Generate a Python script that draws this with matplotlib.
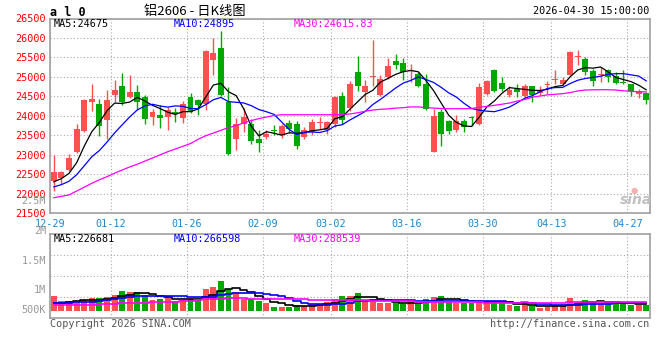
import matplotlib
matplotlib.use("Agg")
import matplotlib.pyplot as plt
import numpy as np

# ---- data (al0 daily, 12-29 .. 04-29) ----
tick_labels = ["12-29", "01-12", "01-26", "02-09", "03-02", "03-16", "03-30", "04-13", "04-27"]
tick_index = [0, 8, 18, 28, 37, 47, 57, 66, 76]

opens = [22340, 22400, 22610, 23070, 23610, 24350, 24300, 23900, 24530, 24760,
         24490, 24610, 24480, 23960, 24020, 23960, 24100, 23950, 24480, 24410,
         24300, 25430, 25730, 24350, 23400, 23800, 23800, 23400, 23460, 23650,
         23500, 23830, 23800, 23460, 23590, 23815, 23650, 23800, 24500, 24190,
         25120, 24610, 24990, 24530, 25000, 25400, 25360, 25140, 25080, 24810,
         23070, 24090, 23860, 23630, 23880, 23970, 23780, 24550, 25190, 24840,
         24530, 24700, 24500, 24760, 24590, 24800, 24910, 24810, 25060, 25520,
         25450, 25140, 25040, 25190, 25020, 24880, 24810, 24550, 24590]
closes = [22560, 22560, 22920, 23660, 24400, 24430, 23750, 24400, 24660, 24360,
          24610, 24350, 23930, 24100, 23950, 24150, 24050, 24300, 24100, 24290,
          25660, 25610, 24530, 23010, 23800, 23970, 23360, 23300, 23540, 23600,
          23730, 23660, 23240, 23630, 23840, 23840, 23840, 24480, 23900, 24810,
          24780, 24780, 25010, 24950, 25290, 25300, 25120, 25170, 24780, 24170,
          24010, 23530, 23600, 23860, 23710, 23940, 24730, 24890, 24640, 24700,
          24670, 24610, 24780, 24530, 24670, 24830, 24950, 24930, 25650, 25540,
          25120, 24890, 25080, 25010, 24840, 24840, 24630, 24630, 24410]
highs = [22990, 22590, 23020, 23790, 24430, 24820, 24430, 24660, 24920, 25100,
         25050, 24790, 24530, 24170, 24280, 24230, 24200, 24380, 24590, 24430,
         25690, 26000, 26190, 24740, 23940, 24210, 23910, 23630, 23630, 23760,
         23780, 23900, 23880, 23710, 23920, 23970, 23860, 24500, 24610, 24890,
         25530, 24930, 25960, 25060, 25480, 25580, 25490, 25320, 25120, 25080,
         24180, 24180, 23890, 24030, 23910, 24010, 24840, 24910, 25210, 25010,
         24780, 24820, 24820, 24760, 24760, 24890, 25180, 25000, 25660, 25680,
         25510, 25210, 25250, 25210, 25120, 25180, 24830, 24680, 24610]
lows = [22080, 22250, 22590, 23040, 23590, 24120, 23490, 23400, 24360, 24270,
        24460, 24150, 23800, 23760, 23700, 23640, 23840, 23820, 24070, 24020,
        24150, 25050, 24500, 22990, 23120, 23590, 23270, 23070, 23400, 23500,
        23440, 23560, 23160, 23410, 23500, 23670, 23540, 23710, 23800, 24120,
        24630, 24360, 24780, 24500, 24950, 25210, 24930, 24870, 24740, 24140,
        23070, 23240, 23530, 23590, 23590, 23730, 23760, 24530, 24610, 24650,
        24480, 24480, 24440, 24360, 24530, 24570, 24830, 24780, 25040, 25300,
        25040, 24780, 24870, 24870, 24820, 24820, 24500, 24470, 24310]
# closes of the 9 sessions before the window (only to start MA5/MA10)
closes_before = [22000, 22050, 22000, 22100, 22100, 22150, 22250, 22300, 22280]
ma30 = [21900, 21935, 21970, 22070, 22170, 22270, 22360, 22440, 22530, 22610,
        22690, 22760, 22840, 22920, 23000, 23080, 23150, 23220, 23290, 23400,
        23490, 23560, 23630, 23700, 23750, 23820, 23880, 23930, 23970, 24010,
        24030, 24030, 24030, 24030, 24030, 24030, 24030, 24030, 24030, 24050,
        24080, 24120, 24150, 24170, 24180, 24200, 24210, 24230, 24230, 24215,
        24200, 24190, 24185, 24185, 24185, 24190, 24220, 24245, 24270, 24300,
        24330, 24380, 24420, 24480, 24510, 24540, 24555, 24570, 24600, 24640,
        24665, 24670, 24672, 24672, 24665, 24645, 24630, 24620, 24616]

volumes = [486000, 320000, 320000, 320000, 352000, 416000, 416000, 448000, 518000, 640000,
           608000, 608000, 518000, 352000, 384000, 416000, 330000, 368000, 384000, 384000,
           704000, 768000, 960000, 704000, 608000, 400000, 400000, 320000, 256000, 128000,
           128000, 128000, 192000, 160000, 224000, 224000, 288000, 374000, 480000, 480000,
           576000, 288000, 374000, 256000, 256000, 256000, 214000, 320000, 256000, 384000,
           448000, 480000, 288000, 256000, 256000, 256000, 352000, 320000, 256000, 256000,
           192000, 160000, 224000, 160000, 96000, 128000, 192000, 160000, 416000, 288000,
           352000, 256000, 256000, 256000, 256000, 256000, 192000, 192000, 192000]
volumes_before = [256000, 288000, 256000, 256000, 272000, 272000, 160000, 160000, 160000]
vol_ma30 = [192000, 192000, 192000, 192000, 198000, 205000, 211000, 224000, 237000, 250000,
            256000, 262000, 269000, 275000, 282000, 288000, 301000, 314000, 333000, 352000,
            371000, 384000, 397000, 403000, 403000, 403000, 400000, 397000, 394000, 390000,
            384000, 381000, 374000, 371000, 368000, 365000, 362000, 358000, 355000, 352000,
            346000, 339000, 333000, 330000, 323000, 320000, 314000, 310000, 304000, 298000,
            294000, 288000, 285000, 282000, 278000, 275000, 275000, 272000, 269000, 269000,
            266000, 269000, 275000, 272000, 269000, 266000, 266000, 266000, 275000, 275000,
            278000, 278000, 282000, 282000, 282000, 285000, 285000, 288000, 288539]

ma_labels = ["MA5:24675", "MA10:24895", "MA30:24615.83"]
vol_ma_labels = ["MA5:226681", "MA10:266598", "MA30:288539"]
vol_axis_labels = ["2.5M", "2M", "1.5M", "1M", "500K"]

# ---- colours / layout ----
UP = "#ff5050"
DOWN = "#00a800"
MA_COLORS = ["black", "#0000ff", "#ff00ff"]
FRAME = "#a0a0a0"
GRID = "#aaaaaa"
MONO = "DejaVu Sans Mono"
W, H = 660, 360
PX_VOL = 32000          # volume per pixel in the volume pane


def box(l, t, r, b):
    return [l / W, 1 - b / H, (r - l) / W, (b - t) / H]


def moving(values, before, n):
    allv = list(before) + list(values)
    k = len(before)
    return [np.mean(allv[k + i - n + 1:k + i + 1]) for i in range(len(values))]


n = len(closes)
x = np.arange(n)
colors = [UP if c >= o else DOWN for o, c in zip(opens, closes)]
ma5 = moving(closes, closes_before, 5)
ma10 = moving(closes, closes_before, 10)
vma5 = moving(volumes, volumes_before, 5)
vma10 = moving(volumes, volumes_before, 10)

fig = plt.figure(figsize=(6.6, 3.6), dpi=100)
ax = fig.add_axes(box(50, 18.5, 650, 213.3))
axv = fig.add_axes(box(50, 234, 650, 318))

for a in (ax, axv):
    a.set_xlim(-0.5, n - 0.5)
    for s in a.spines.values():
        s.set_color(FRAME)
        s.set_linewidth(1.2)
    a.set_xticks([t - 0.5 for t in tick_index])
    a.grid(True, color=GRID, linestyle=(0, (1, 2)), linewidth=0.8)
    a.set_axisbelow(True)
    a.tick_params(length=0)

# price pane
ax.set_ylim(21500, 26500)
ax.set_yticks(range(21500, 26501, 500))
ax.set_yticklabels([str(v) for v in range(21500, 26501, 500)], family=MONO,
                   fontsize=7.3, color="#ff0000")
ax.set_xticklabels(tick_labels, family=MONO, fontsize=7.3, color="#1e88d0")
ax.tick_params(axis="y", pad=3)
ax.tick_params(axis="x", pad=4)

body = [max(abs(c - o), 25) for o, c in zip(opens, closes)]
bottom = [min(o, c) for o, c in zip(opens, closes)]
ax.vlines(x, lows, highs, colors=colors, linewidth=1)
ax.bar(x, body, bottom=bottom, width=0.78, color=colors, linewidth=0)
for line, col in zip([ma5, ma10, ma30], MA_COLORS):
    ax.plot(x, line, color=col, linewidth=0.9)

# volume pane
vlo, vhi = -(318 - 311) * PX_VOL, (311 - 234) * PX_VOL
axv.set_ylim(vlo, vhi)
axv.set_yticks([vlo + f * (vhi - vlo) for f in (0.25, 0.5, 0.75)])
axv.set_yticklabels([])
axv.set_xticklabels([])
axv.bar(x, volumes, width=0.78, color=colors, linewidth=0)
for line, col in zip([vma5, vma10, vol_ma30], MA_COLORS):
    axv.plot(x, line, color=col, linewidth=1.2, drawstyle="steps-mid")

# texts


def ftext(px, py, s, **kw):
    fig.text(px / W, 1 - py / H, s, va="center", **kw)


ftext(50, 12, "a l 0", family=MONO, fontsize=8.5, fontweight="bold")
ftext(195, 11, "铝2606 - 日K线图", family=["Noto Sans CJK SC", "DejaVu Sans"],
      fontsize=9.5, ha="center")
ftext(649, 11.3, "2026-04-30 15:00:00", family=MONO, fontsize=7.3, ha="right")
for px, s, col in zip([54, 174, 294], ma_labels, MA_COLORS):
    ftext(px, 23.7, s, family=MONO, fontsize=7.3, color=col)
for px, s, col in zip([54, 174, 294], vol_ma_labels, MA_COLORS):
    ftext(px, 239, s, family=MONO, fontsize=7.3, color=col)
for py, s in zip([201, 230.7, 260.7, 290, 310], vol_axis_labels):
    ftext(46, py, s, family=MONO, fontsize=7.3, color="#999999", ha="right")
ftext(50, 324, "Copyright 2026 SINA.COM", family=MONO, fontsize=7.3, color="#555555")
ftext(649.5, 324, "http://finance.sina.com.cn", family=MONO, fontsize=7.3,
      color="#555555", ha="right")

# sina watermark
fig.text(636 / W, 1 - 200 / H, "sina", fontsize=10, fontstyle="italic", fontweight="bold",
         color="#c0c0c0", ha="center", va="center")
fig.text(634 / W, 1 - 190 / H, "●", fontsize=6, color="#f4b0b0", ha="center", va="center")

fig.savefig("out.png", dpi=100)
